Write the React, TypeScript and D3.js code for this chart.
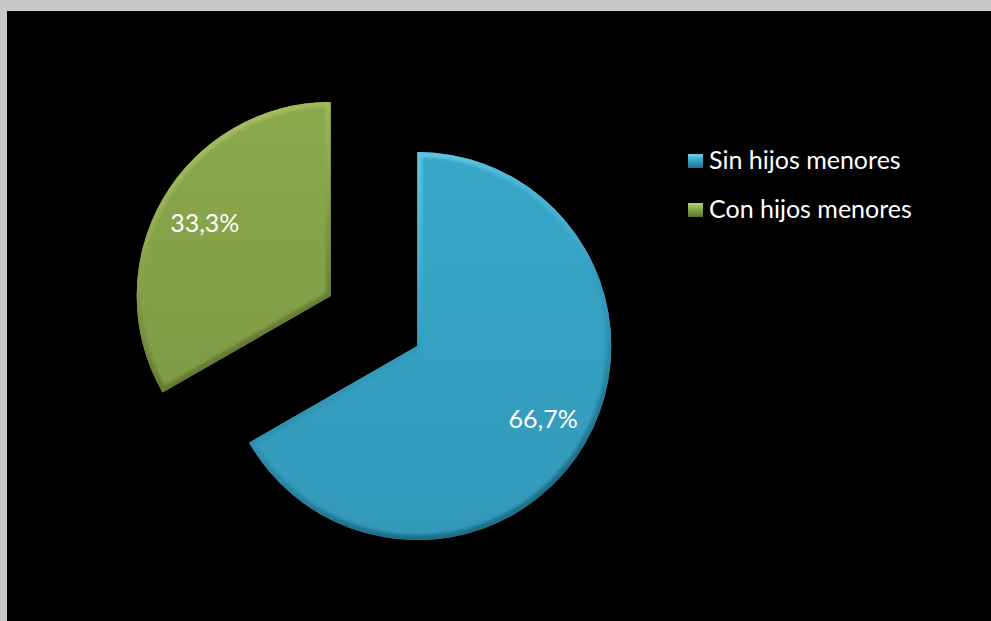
import React from "react";
import * as d3 from "d3";

const categories = ["Sin hijos menores", "Con hijos menores"];
const values = [66.7, 33.3];
const labels = ["66,7%", "33,3%"];

const W = 991;
const H = 621;
const CX = 374;
const CY = 321;
const R = 194;
const EXPLODE = 50;
const FONT = "Lato, 'Open Sans', sans-serif";

const baseColors = ["#35a0c1", "#86a249"];
const lightColors = ["#6fd0ec", "#b4d070"];
const darkColors = ["#1f6f88", "#5a7430"];

export default function App() {
  React.useEffect(() => {
    document.body.style.margin = "0";
  }, []);

  const pie = d3
    .pie<number>()
    .sort(null)
    .startAngle(0)
    .endAngle(2 * Math.PI)
    .value((d) => d);
  const arcs = pie(values);
  const arc = d3.arc<d3.PieArcDatum<number>>().innerRadius(0).outerRadius(R);

  return (
    <svg width={W} height={H} style={{ position: "absolute", left: 0, top: 0, display: "block" }}>
      <defs>
        <filter id="soft" x="-10%" y="-10%" width="120%" height="120%">
          <feGaussianBlur stdDeviation="1.6" />
        </filter>
        {arcs.map((a, i) => (
          <React.Fragment key={i}>
            <linearGradient id={`body${i}`} x1="0" y1="0" x2="0" y2="1">
              <stop offset="0%" stopColor={d3.color(baseColors[i])!.brighter(0.12).toString()} />
              <stop offset="100%" stopColor={d3.color(baseColors[i])!.darker(0.12).toString()} />
            </linearGradient>
            <linearGradient id={`edge${i}`} x1="0" y1="0" x2="0.3" y2="1">
              <stop offset="0%" stopColor={lightColors[i]} />
              <stop offset="55%" stopColor={baseColors[i]} />
              <stop offset="100%" stopColor={darkColors[i]} />
            </linearGradient>
            <clipPath id={`clip${i}`}>
              <path d={arc(a)!} />
            </clipPath>
          </React.Fragment>
        ))}
        {categories.map((c, i) => (
          <linearGradient key={c} id={`leg${i}`} x1="0" y1="0" x2="0" y2="1">
            <stop offset="0%" stopColor={lightColors[i]} />
            <stop offset="50%" stopColor={baseColors[i]} />
            <stop offset="100%" stopColor={darkColors[i]} />
          </linearGradient>
        ))}
      </defs>
      <rect x={0} y={0} width={W} height={H} fill="#c8c8c8" />
      <rect x={7} y={11} width={W - 7} height={H - 11} fill="#000000" />

      {arcs.map((a, i) => {
        const mid = (a.startAngle + a.endAngle) / 2;
        const ox = CX + EXPLODE * Math.sin(mid);
        const oy = CY - EXPLODE * Math.cos(mid);
        const lr = R * 0.75;
        const lx = lr * Math.sin(mid);
        const ly = -lr * Math.cos(mid);
        return (
          <g key={i} transform={`translate(${ox},${oy})`}>
            <path d={arc(a)!} fill={`url(#body${i})`} />
            <g clipPath={`url(#clip${i})`}>
              <path
                d={arc(a)!}
                fill="none"
                stroke={`url(#edge${i})`}
                strokeWidth={10}
                strokeLinejoin="round"
                filter="url(#soft)"
              />
            </g>
            <text
              x={lx}
              y={ly}
              dy="0.35em"
              textAnchor="middle"
              fill="#ffffff"
              fontFamily={FONT}
              fontSize={25}
            >
              {labels[i]}
            </text>
          </g>
        );
      })}

      {categories.map((c, i) => (
        <g key={c} transform={`translate(688,${154 + i * 49})`}>
          <rect x={0} y={0} width={15} height={14} fill={`url(#leg${i})`} />
          <text x={21} y={15} fill="#ffffff" fontFamily={FONT} fontSize={25}>
            {c}
          </text>
        </g>
      ))}
    </svg>
  );
}
